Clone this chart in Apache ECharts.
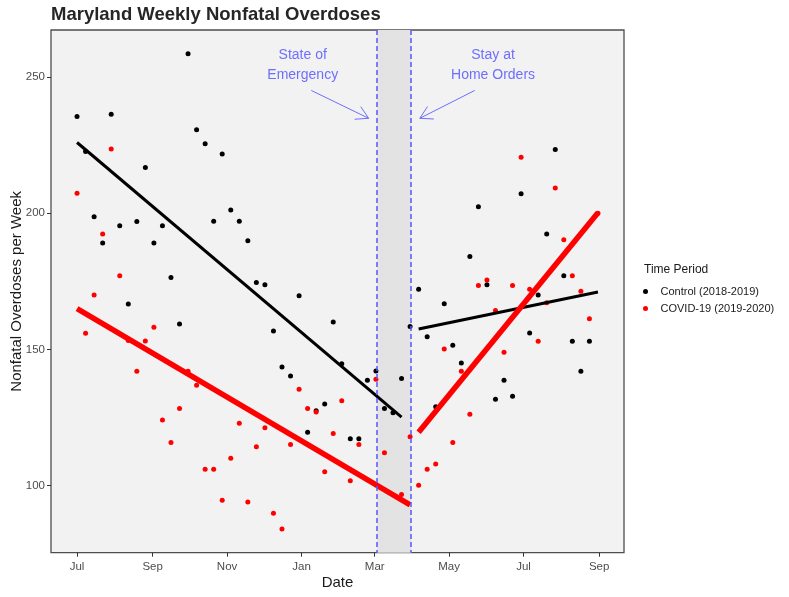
<!DOCTYPE html>
<html><head><meta charset="utf-8">
<script src="https://cdn.jsdelivr.net/npm/echarts@6/dist/echarts.min.js"></script>
<style>html,body{margin:0;padding:0;background:#fff}#c{width:789px;height:597px}</style>
</head><body><div id="c"></div>
<script>
// Weekly dates (x values)
const weeks = [
 '2019-07-01','2019-07-08','2019-07-15','2019-07-22','2019-07-29','2019-08-05','2019-08-12','2019-08-19','2019-08-26',
 '2019-09-02','2019-09-09','2019-09-16','2019-09-23','2019-09-30','2019-10-07','2019-10-14','2019-10-21','2019-10-28',
 '2019-11-04','2019-11-11','2019-11-18','2019-11-25','2019-12-02','2019-12-09','2019-12-16','2019-12-23','2019-12-30',
 '2020-01-06','2020-01-13','2020-01-20','2020-01-27','2020-02-03','2020-02-10','2020-02-17','2020-02-24','2020-03-02',
 '2020-03-09','2020-03-16','2020-03-23','2020-03-30','2020-04-06','2020-04-13','2020-04-20','2020-04-27','2020-05-04',
 '2020-05-11','2020-05-18','2020-05-25','2020-06-01','2020-06-08','2020-06-15','2020-06-22','2020-06-29','2020-07-06',
 '2020-07-13','2020-07-20','2020-07-27','2020-08-03','2020-08-10','2020-08-17','2020-08-24','2020-08-31'
];
// Control (2018-2019) weekly nonfatal overdoses
const controlValues = [
 235.5,222.7,198.7,189.1,236.4,195.4,166.7,197.0,216.8,
 189.1,195.4,176.4,159.4,258.6,230.7,225.5,197.1,221.8,
 201.2,197.1,189.9,174.6,173.8,156.8,143.6,140.3,169.7,
 119.6,127.5,130.0,160.1,144.8,117.2,117.2,138.7,142.1,
 128.3,126.8,139.4,158.4,172.1,154.7,129.0,166.8,151.6,
 145.0,184.1,202.4,173.8,131.7,138.7,132.8,207.2,156.1,
 170.0,192.4,223.4,177.1,153.0,142.0,153.0,null
];
// COVID-19 (2019-2020) weekly nonfatal overdoses
const covidValues = [
 207.4,156.0,170.0,192.4,223.6,177.1,153.3,142.0,153.1,
 158.2,124.1,115.9,128.3,142.0,136.9,106.0,106.0,94.7,
 110.1,122.9,94.0,114.3,121.3,89.9,84.1,115.1,135.4,
 128.3,127.1,105.1,119.2,131.2,101.8,115.1,null,139.1,
 112.1,null,96.8,118.0,100.2,106.0,108.0,150.2,115.9,
 142.0,126.2,173.5,175.5,164.3,149.0,173.5,220.6,172.1,
 153.0,167.2,209.3,190.3,177.1,171.4,161.3,200.0
];
// Trend lines (endpoints)
const controlPreTrendDates = ['2019-07-01','2020-03-23'];
const controlPreTrend = [226.0,125.2];
const controlPostTrendDates = ['2020-04-06','2020-08-31'];
const controlPostTrend = [157.5,171.1];
const covidPreTrendDates = ['2019-07-01','2020-03-30'];
const covidPreTrend = [165.0,93.0];
const covidPostTrendDates = ['2020-04-06','2020-08-31'];
const covidPostTrend = [119.6,200.2];
// Event lines
const eventDates = ['2020-03-03','2020-03-31'];
// Axis ticks
const xTickDates = ['2019-07-01','2019-09-01','2019-11-01','2020-01-01','2020-03-01','2020-05-01','2020-07-01','2020-09-01'];
const xTickLabels = ['Jul','Sep','Nov','Jan','Mar','May','Jul','Sep'];
const yTicks = [100,150,200,250];
// Annotations
const annoTexts = [
 {text:'State of\nEmergency', date:'2020-01-02', value:254.5},
 {text:'Stay at\nHome Orders', date:'2020-06-06', value:254.5}
];
const annoArrows = [
 {from:['2020-01-09',245.1], to:['2020-02-25',234.9]},
 {from:['2020-05-22',245.1], to:['2020-04-07',234.9]}
];

const T = s => Date.parse(s + 'T00:00:00Z');
const DAY = 864e5;
const xTickVals = xTickDates.map(T);
const pair = (ds, vs) => ds.map((d,i)=>[T(d), vs[i]]);
const pts = vs => weeks.map((d,i)=>[T(d), vs[i]]).filter(p=>p[1]!=null);
const FONT = 'Liberation Sans, Arial, sans-serif';
const ANNO = 'rgba(95,95,255,0.9)';

const chart = echarts.init(document.getElementById('c'), null, {renderer:'canvas'});
const xMin = T(weeks[0]) - 21.35*DAY, xMax = T(weeks[weeks.length-1]) + 21.35*DAY;

chart.setOption({
  animation:false,
  backgroundColor:'#ffffff',
  textStyle:{fontFamily:FONT},
  title:[
    {text:'Maryland Weekly Nonfatal Overdoses', left:51, top:5, padding:0,
     textStyle:{fontFamily:FONT, fontSize:18.5, fontWeight:'bold', color:'#262626'}},
    {text:'Time Period', left:644, top:264, padding:0,
     textStyle:{fontFamily:FONT, fontSize:12, fontWeight:'normal', color:'#1a1a1a'}}
  ],
  legend:{
    data:['Control (2018-2019)','COVID-19 (2019-2020)'],
    orient:'vertical', left:643, top:286, itemWidth:20, itemHeight:5, itemGap:6, padding:0,
    textStyle:{fontFamily:FONT, fontSize:11, color:'#1a1a1a'}
  },
  grid:{left:51, right:165, top:30, bottom:44.3, show:true, backgroundColor:'#F2F2F2',
        borderColor:'#4d4d4d', borderWidth:1.3, containLabel:false, outerBoundsMode:'none'},
  xAxis:{
    type:'value', min:xMin, max:xMax,
    name:'Date', nameLocation:'middle', nameGap:23, nameMoveOverlap:false,
    nameTextStyle:{fontFamily:FONT, fontSize:15, color:'#1a1a1a'},
    axisLine:{show:false},
    axisTick:{show:true, length:4, customValues:xTickVals, lineStyle:{color:'#333', width:1}},
    axisLabel:{customValues:xTickVals, fontFamily:FONT, fontSize:11.5, color:'#4d4d4d', margin:8,
      formatter:v=>xTickLabels[xTickVals.indexOf(v)]},
    splitLine:{show:false}
  },
  yAxis:{
    type:'value', min:75.4, max:267.3,
    name:'Nonfatal Overdoses per Week', nameLocation:'middle', nameGap:27, nameMoveOverlap:false,
    nameTextStyle:{fontFamily:FONT, fontSize:15, color:'#1a1a1a'},
    axisLine:{show:false},
    axisTick:{show:true, length:4, customValues:yTicks, lineStyle:{color:'#333', width:1}},
    axisLabel:{customValues:yTicks, fontFamily:FONT, fontSize:11.5, color:'#4d4d4d', margin:6},
    splitLine:{show:false}
  },
  series:[
    {type:'line', name:'_area', data:[], silent:true, z:1,
     markArea:{silent:true, itemStyle:{color:'#E3E3E3', opacity:1}, data:[[{xAxis:T(eventDates[0])},{xAxis:T(eventDates[1])}]]}
    },
    {type:'scatter', name:'Control (2018-2019)', data:pts(controlValues), symbolSize:5,
     itemStyle:{color:'#000000', opacity:1}, z:3},
    {type:'scatter', name:'COVID-19 (2019-2020)', data:pts(covidValues), symbolSize:5,
     itemStyle:{color:'#FF0000', opacity:1}, z:3},
    {type:'line', name:'ctrlPre', data:pair(controlPreTrendDates, controlPreTrend), showSymbol:false, symbol:'none',
     lineStyle:{color:'#000', width:3}, z:4},
    {type:'line', name:'ctrlPost', data:pair(controlPostTrendDates, controlPostTrend), showSymbol:false, symbol:'none',
     lineStyle:{color:'#000', width:3}, z:4},
    {type:'line', name:'covPre', data:pair(covidPreTrendDates, covidPreTrend), showSymbol:false, symbol:'none',
     lineStyle:{color:'#FF0000', width:5.5}, z:4},
    {type:'line', name:'covPost', data:pair(covidPostTrendDates, covidPostTrend), showSymbol:false, symbol:'none',
     lineStyle:{color:'#FF0000', width:5.5}, z:4}
  ]
});

// Event lines and annotations placed via data coordinates
const px = (d,v) => chart.convertToPixel({gridIndex:0}, [T(d), v]);
const gridTop = chart.convertToPixel({yAxisIndex:0}, 267.3), gridBot = chart.convertToPixel({yAxisIndex:0}, 75.4);
const graphics = [];
eventDates.forEach(d=>{
  const x = Math.round(chart.convertToPixel({xAxisIndex:0}, T(d)));
  graphics.push({type:'line', z:9, silent:true, shape:{x1:x, y1:gridTop, x2:x, y2:gridBot},
    style:{stroke:'#5A5AFF', lineWidth:1.8, lineDash:[5,3], opacity:0.85}});
});
annoTexts.forEach(a=>{
  const p = px(a.date, a.value);
  graphics.push({type:'text', x:p[0], y:p[1], z:10,
    style:{text:a.text, fontFamily:FONT, fontSize:14, fill:ANNO, align:'center', verticalAlign:'middle', lineHeight:20}});
});
annoArrows.forEach(a=>{
  const s = px(a.from[0], a.from[1]), e = px(a.to[0], a.to[1]);
  const ang = Math.atan2(e[1]-s[1], e[0]-s[0]);
  const L = 14, w = Math.PI/6;
  const a1 = [e[0]-L*Math.cos(ang-w), e[1]-L*Math.sin(ang-w)];
  const a2 = [e[0]-L*Math.cos(ang+w), e[1]-L*Math.sin(ang+w)];
  graphics.push({type:'polyline', z:10, shape:{points:[s,e]}, style:{stroke:ANNO, lineWidth:1, fill:null}});
  graphics.push({type:'polyline', z:10, shape:{points:[a1,e,a2]}, style:{stroke:ANNO, lineWidth:1, fill:null}});
});
chart.setOption({graphic:graphics});
</script>
</body></html>
